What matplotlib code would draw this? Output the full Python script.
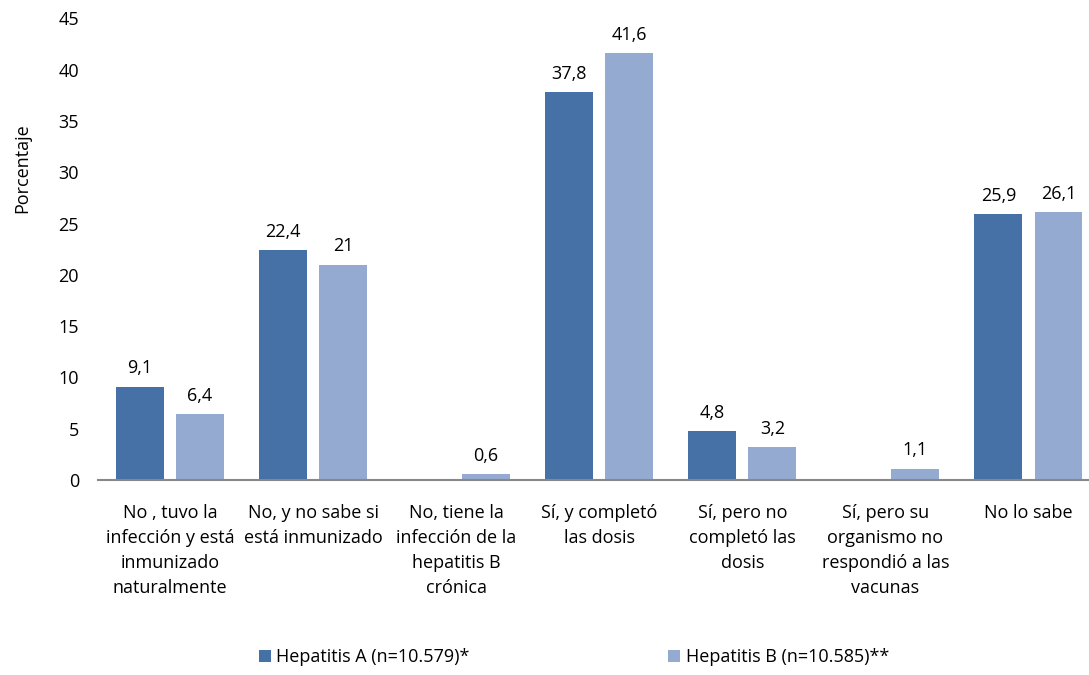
import matplotlib
matplotlib.use("Agg")
import matplotlib.pyplot as plt
import numpy as np

plt.rcParams['font.family'] = ['Open Sans', 'DejaVu Sans']

categories = [
    "No , tuvo la\ninfección y está\ninmunizado\nnaturalmente",
    "No, y no sabe si\nestá inmunizado",
    "No, tiene la\ninfección de la\nhepatitis B\ncrónica",
    "Sí, y completó\nlas dosis",
    "Sí, pero no\ncompletó las\ndosis",
    "Sí, pero su\norganismo no\nrespondió a las\nvacunas",
    "No lo sabe",
]
hep_a = [9.1, 22.4, None, 37.8, 4.8, None, 25.9]
hep_b = [6.4, 21.0, 0.6, 41.6, 3.2, 1.1, 26.1]
series_labels = ["Hepatitis A (n=10.579)*", "Hepatitis B (n=10.585)**"]
yticks = [0, 5, 10, 15, 20, 25, 30, 35, 40, 45]

def fmt(v):
    s = f"{v:.1f}".replace(".", ",")
    if s.endswith(",0"):
        s = s[:-2]
    return s

FS = 13
W, H = 1089, 675
fig = plt.figure(figsize=(W/100, H/100), dpi=100)
left, right, bottom, top = 98.4, 1100, 480, 18.3
ax = fig.add_axes([left/W, 1-bottom/H, (right-left)/W, (bottom-top)/H])

x = np.arange(len(categories))
w = 0.335
off = 0.21
colors = ["#4571A6", "#94AAD1"]

for vals, sign, col, lab in [(hep_a, -1, colors[0], series_labels[0]),
                             (hep_b, 1, colors[1], series_labels[1])]:
    xs = [xi + sign*off for xi, v in zip(x, vals) if v is not None]
    vs = [v for v in vals if v is not None]
    bars = ax.bar(xs, vs, width=w, color=col, label=lab, zorder=2)
    for b, v in zip(bars, vs):
        ax.text(b.get_x()+b.get_width()/2, v+0.9, fmt(v), ha='center', va='bottom', fontsize=FS)

ax.set_xlim(-0.5, len(categories)-0.5)
ax.set_ylim(0, 45)
ax.set_yticks(yticks)
ax.set_yticklabels([str(t) for t in yticks], fontsize=FS)
ax.set_xticks(x)
ax.set_xticklabels(categories, fontsize=FS, linespacing=1.5, va='top')
ax.tick_params(axis='x', length=0, pad=17)
ax.tick_params(axis='y', length=0, pad=14)
for s in ['top', 'right', 'left']:
    ax.spines[s].set_visible(False)
ax.spines['bottom'].set_color('#888888')
ax.spines['bottom'].set_linewidth(1.5)
fig.text(22/W, 1-168/H, "Porcentaje", rotation=90, ha='center', va='center', fontsize=FS)

fig.legend(loc='center', bbox_to_anchor=(574/W, 1-657/H), ncol=2, frameon=False,
           fontsize=FS, handlelength=0.66, handleheight=0.66, handletextpad=0.3,
           columnspacing=11.0)

fig.savefig("out.png", dpi=100)
